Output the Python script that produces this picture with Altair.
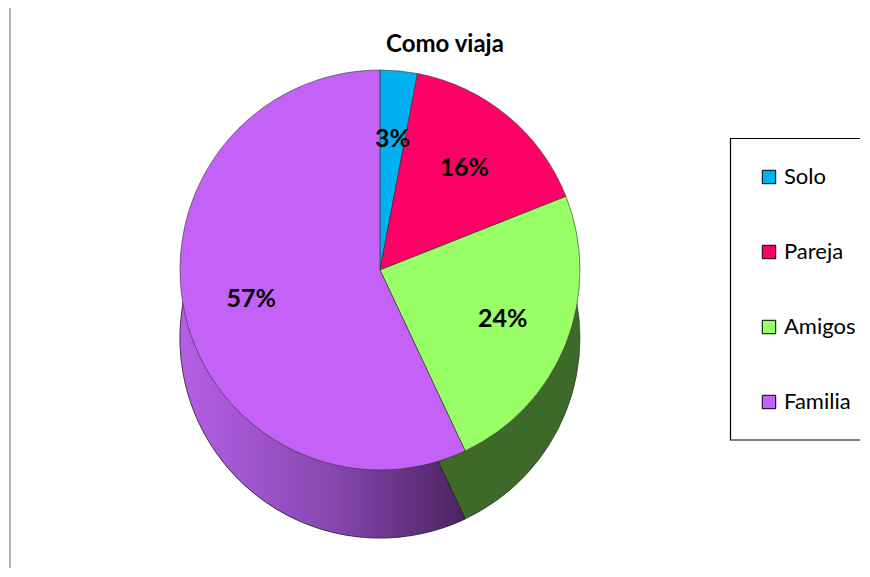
import altair as alt
import pandas as pd

# ---- data ----
categories = ["Solo", "Pareja", "Amigos", "Familia"]
percent = [3, 16, 24, 57]
labels = ["3%", "16%", "24%", "57%"]
colors = ["#00B0F0", "#FF0066", "#99FF66", "#C462F7"]
side_colors = ["#00789F", "#A3003F", "#3D6A29", "#7A3FA0"]
title_text = "Como viaja"

df = pd.DataFrame({
    "cat": categories,
    "value": percent,
    "label": labels,
    "side": side_colors,
    "order": list(range(len(categories))),
})

CX, CY, R, DEPTH = 372, 262, 200, 68
FONT = "Lato"

base = alt.Chart(df).transform_stack(
    stack="value", as_=["start", "end"], groupby=[],
    sort=[alt.SortField("order", "ascending")]
).transform_calculate(mid="(datum.start + datum.end) / 2")

theta_scale = alt.Scale(domain=[0, 100])

side = base.mark_arc(radius=R, yOffset=DEPTH, stroke="#222222", strokeWidth=0.6).encode(
    theta=alt.Theta("start:Q", scale=theta_scale),
    theta2="end:Q",
    fill=alt.Fill("side:N", scale=None),
    x=alt.value(CX), y=alt.value(CY),
)

side_fam = base.transform_filter(alt.datum.cat == "Familia").mark_arc(
    radius=R, yOffset=DEPTH, stroke="#222222", strokeWidth=0.6,
    fill={"gradient": "linear", "x1": 0, "y1": 0, "x2": 1, "y2": 0,
          "stops": [{"offset": 0, "color": "#B560E6"},
                    {"offset": 0.55, "color": "#8646AE"},
                    {"offset": 1, "color": "#4A2360"}]},
).encode(
    theta=alt.Theta("start:Q", scale=theta_scale),
    theta2="end:Q",
    x=alt.value(CX), y=alt.value(CY),
)

top = base.mark_arc(radius=R, stroke="#333333", strokeWidth=0.6).encode(
    theta=alt.Theta("start:Q", scale=theta_scale),
    theta2="end:Q",
    color=alt.Color("cat:N",
                    scale=alt.Scale(domain=categories, range=colors),
                    sort=categories,
                    legend=alt.Legend(title=None)),
    x=alt.value(CX), y=alt.value(CY),
)

text = base.mark_text(radius=132, font=FONT, fontSize=25, fontWeight="bold",
                      color="black").encode(
    theta=alt.Theta("mid:Q", scale=theta_scale),
    text="label:N",
    x=alt.value(CX), y=alt.value(CY),
)

title = alt.Chart(pd.DataFrame({"t": [title_text]})).mark_text(
    font=FONT, fontSize=24, fontWeight="bold", color="black", baseline="middle"
).encode(text="t:N", x=alt.value(437), y=alt.value(37))

border = alt.Chart(pd.DataFrame({"a": [0]})).mark_rule(
    color="#808080", strokeWidth=1.2
).encode(x=alt.value(2), y=alt.value(-2), y2=alt.value(570))

legend_box = alt.Chart(pd.DataFrame({"a": [0]})).mark_rect(
    fill="white", stroke="black", strokeWidth=1.2
).encode(x=alt.value(722.5), x2=alt.value(900), y=alt.value(130.5), y2=alt.value(432))

chart = alt.layer(border, legend_box, side, side_fam, top, text, title).properties(
    width=852, height=560,
    autosize=alt.AutoSizeParams(type="none"),
    padding=0,
).configure_view(stroke=None).configure_legend(
    orient="none", legendX=722, legendY=130,
    padding=28, rowPadding=53,
    symbolType="square", symbolSize=180, symbolStrokeColor="black",
    symbolStrokeWidth=1, symbolOpacity=1,
    labelFont=FONT, labelFontSize=22, labelColor="black", labelOffset=4,
)

chart.save("out.html", embed_options={"renderer": "svg", "actions": False})
